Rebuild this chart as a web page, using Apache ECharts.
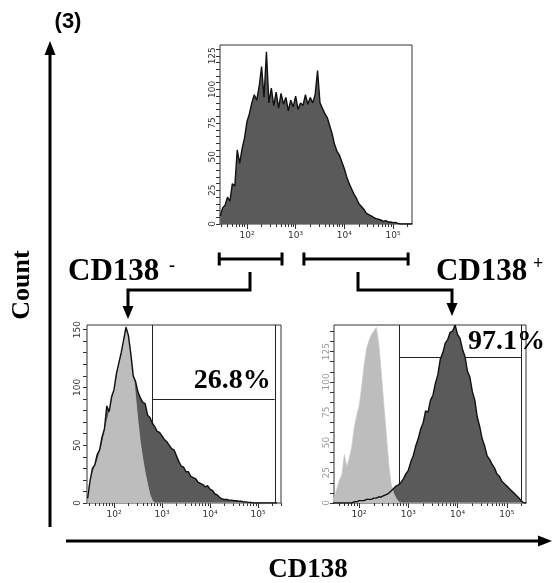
<!DOCTYPE html>
<html><head><meta charset="utf-8">
<script src="https://cdn.jsdelivr.net/npm/echarts@6/dist/echarts.min.js"></script>
<style>html,body{margin:0;padding:0;background:#fff}#c{width:552px;height:583px}</style>
</head><body><div id="c"></div>
<script>
// bin centres (log10 of CD138 fluorescence)
const BINS = [
1.45,1.50,1.55,1.60,1.65,1.70,1.75,1.80,1.85,1.90,
1.95,2.00,2.05,2.10,2.15,2.20,2.25,2.30,2.35,2.40,
2.45,2.50,2.55,2.60,2.65,2.70,2.75,2.80,2.85,2.90,
2.95,3.00,3.05,3.10,3.15,3.20,3.25,3.30,3.35,3.40,
3.45,3.50,3.55,3.60,3.65,3.70,3.75,3.80,3.85,3.90,
3.95,4.00,4.05,4.10,4.15,4.20,4.25,4.30,4.35,4.40,
4.45,4.50,4.55,4.60,4.65,4.70,4.75,4.80,4.85,4.90,
4.95,5.00,5.05,5.10,5.15,5.20,5.25,5.30,5.35,5.40];
// top: all cells before sorting
const TOP_ALL = [
6,12,14,20,17,30,28,55,45,56,
64,76,82,90,96,92,102,117,94,128,
90,101,88,98,86,97,89,94,84,92,
87,95,85,90,88,96,89,94,90,96,
114,90,86,82,79,73,67,59,54,51,
46,41,35,30,26,22,19,15,13,11,
8,7,6,5,4,3.5,3,2,2.5,1.5,
1.5,1,1.2,0.5,0,0,0,0,0,0];
// CD138- sorted fraction
const NEG_SAMPLE = [
4,19,30,33,42,46,57,64,84,79,
92,98,112,121,130,141,152,145,129,110,
105,96,91,87,86,76,74,69,66,62,
61,58,55,53,50,47,46,41,36,32,
31,27,27,23,22,21,18,17,16,14,
15,12,11,8,7,5,3.5,3,3,2.5,
2.5,2,2,1.5,1.5,1,1,0.5,0.5,0,
0,0,0,0,0,0,0,0,0,0];
const NEG_CONTROL = [
10,18,25,31,36,43,50,60,70,78,
87,96,106,118,127,140,153,145,132,114,
92,70,52,38,26,16,7,2,0,0,
0,0,0,0,0,0,0,0,0,0,
0,0,0,0,0,0,0,0,0,0,
0,0,0,0,0,0,0,0,0,0,
0,0,0,0,0,0,0,0,0,0,
0,0,0,0,0,0,0,0,0,0];
// CD138+ sorted fraction
const POS_SAMPLE = [
0,0,0,0,0,0,0,0,0,1,
1,2,2,2,3,3,3,4,4,5,
5,6,7,8,10,12,14,15,17,20,
24,27,34,39,47,53,61,66,76,75,
85,89,99,106,119,124,132,135,141,142,
147,139,136,127,121,109,104,92,85,71,
63,53,47,39,36,32,29,24,22,18,
16,14,12,10,8,6,4,1.5,0,0];
const POS_CONTROL = [
3,5,12,19,23,40,30,37,46,62,
72,80,95,113,127,134,139,142,145,131,
108,82,58,33,16,8,4,1,0,0,
0,0,0,0,0,0,0,0,0,0,
0,0,0,0,0,0,0,0,0,0,
0,0,0,0,0,0,0,0,0,0,
0,0,0,0,0,0,0,0,0,0,
0,0,0,0,0,0,0,0,0,0];
const DECADES = [2,3,4,5];
const DECADE_LABELS = ['10²','10³','10⁴','10⁵'];
const GATE_NEG = [2.79, 5.35, 90];   // [from, to, marker height]
const GATE_POS = [2.82, 5.29, 120];
const PCT_NEG = '26.8%';
const PCT_POS = '97.1%';
const BRACKET_NEG = [1.43, 2.72];
const BRACKET_POS = [3.17, 5.31];

const DARK = '#5a5a5a', LIGHT = '#bdbdbd';
const minorTicks = [];
for (let n = 1; n <= 5; n++) for (let k = 2; k <= 9; k++) minorTicks.push(Math.log10(k * Math.pow(10, n)));

const panels = [
  {grid:{left:220,top:45,width:192,height:179}, xmin:1.446, xmax:5.39, ymax:133, ytick:5, ylab:25, ylabColor:'#333', ylabMargin:3},
  {grid:{left:87,top:325,width:194,height:178}, xmin:1.4375, xmax:5.48, ymax:154, ytick:10, ylab:50, ylabColor:'#333', ylabMargin:5},
  {grid:{left:334,top:325,width:192,height:178}, xmin:1.49, xmax:5.39, ymax:147, ytick:25/3, ylab:25, ylabColor:'#999', ylabMargin:3}
];

const grids = [], xAxes = [], yAxes = [];
panels.forEach((p, i) => {
  grids.push(Object.assign({show:true, borderColor:'#333', borderWidth:1, backgroundColor:'transparent', containLabel:false}, p.grid));
  xAxes.push({type:'value', gridIndex:i, position:'bottom', min:p.xmin, max:p.xmax,
    axisLine:{show:false}, splitLine:{show:false},
    axisTick:{show:true, length:5, customValues:DECADES, lineStyle:{color:'#333'}},
    axisLabel:{show:true, customValues:DECADES, margin:7, fontSize:9, color:'#333', fontFamily:'DejaVu Sans',
      formatter:v => DECADE_LABELS[DECADES.indexOf(Math.round(v))] || ''}});
  xAxes.push({type:'value', gridIndex:i, position:'bottom', min:p.xmin, max:p.xmax,
    axisLine:{show:false}, splitLine:{show:false}, axisLabel:{show:false},
    axisTick:{show:true, length:3, customValues:minorTicks.filter(t => t > p.xmin && t < p.xmax), lineStyle:{color:'#333'}}});
  yAxes.push({type:'value', gridIndex:i, min:0, max:p.ymax, interval:p.ytick,
    axisLine:{show:false}, splitLine:{show:false},
    axisTick:{show:true, length:4, lineStyle:{color:'#333'}},
    axisLabel:{show:true, rotate:90, fontSize:9, color:p.ylabColor, margin:p.ylabMargin, showMaxLabel:false, fontFamily:'DejaVu Sans',
      formatter:v => { const r = v / p.ylab; return Math.abs(r - Math.round(r)) < 1e-6 ? String(Math.round(v)) : ''; }}});
});

const pts = arr => BINS.map((b, i) => [b, arr[i]]);
function area(i, arr, color, lineColor) {
  return {type:'line', xAxisIndex:2*i, yAxisIndex:i, data:pts(arr), symbol:'none', silent:true,
    lineStyle:{width:lineColor ? 0.8 : 0, color:lineColor || color}, areaStyle:{color:color, opacity:1}};
}
function outline(i, arr) {
  return {type:'line', xAxisIndex:2*i, yAxisIndex:i, data:pts(arr), symbol:'none', silent:true,
    lineStyle:{width:1.4, color:'#111'}};
}
function gate(i, g, ymax) {
  return {type:'lines', coordinateSystem:'cartesian2d', xAxisIndex:2*i, yAxisIndex:i, silent:true,
    lineStyle:{color:'#222', width:1, opacity:1},
    data:[{coords:[[g[0],0],[g[0],ymax]]},{coords:[[g[0],g[2]],[g[1],g[2]]]},{coords:[[g[1],0],[g[1],ymax]]}]};
}

const series = [
  area(0, TOP_ALL, DARK), outline(0, TOP_ALL),
  area(1, NEG_SAMPLE, DARK), area(1, NEG_CONTROL, LIGHT, '#c8c8c8'), outline(1, NEG_SAMPLE), gate(1, GATE_NEG, panels[1].ymax),
  area(2, POS_SAMPLE, DARK), area(2, POS_CONTROL, LIGHT, '#c8c8c8'), outline(2, POS_SAMPLE), gate(2, GATE_POS, panels[2].ymax)
];

const chart = echarts.init(document.getElementById('c'), null, {renderer:'canvas'});
chart.setOption({animation:false, backgroundColor:'#fff', grid:grids, xAxis:xAxes, yAxis:yAxes, series:series});

const px = (i, v) => chart.convertToPixel({xAxisIndex:2*i, yAxisIndex:i}, v);
const SERIF = '"Liberation Serif","Times New Roman",serif';
const g = [];
function seg(x1,y1,x2,y2,w){ g.push({type:'line', shape:{x1,y1,x2,y2}, style:{stroke:'#000', lineWidth:w||3}}); }
function tri(points){ g.push({type:'polygon', shape:{points}, style:{fill:'#000'}}); }
function txt(x,y,text,font,align,valign,rot){ g.push({type:'text', x, y, rotation:rot||0, style:{text, font, fill:'#000', textAlign:align||'center', textVerticalAlign:valign||'middle'}}); }

// main axes arrows
seg(50, 527, 50, 52); tri([[50,41],[44.5,55],[55.5,55]]);
seg(66, 541, 540, 541); tri([[552,541],[538,535.5],[538,546.5]]);
txt(68, 22, '(3)', 'bold 22px "Liberation Sans",Arial,sans-serif');
txt(22, 285, 'Count', 'bold 26px ' + SERIF, 'center', 'middle', Math.PI/2);
txt(308, 570, 'CD138', 'bold 27px ' + SERIF);

// gate brackets under top histogram
const by = 259;
[BRACKET_NEG, BRACKET_POS].forEach(b => {
  const x1 = px(0, [b[0], 0])[0], x2 = px(0, [b[1], 0])[0];
  seg(x1, by, x2, by); seg(x1, by-6.5, x1, by+6.5); seg(x2, by-6.5, x2, by+6.5);
});
// elbow arrows
g.push({type:'polyline', shape:{points:[[250,272],[250,290],[128,290],[128,308]]}, style:{stroke:'#000', lineWidth:3, fill:null}});
tri([[128,319],[122.5,306],[133.5,306]]);
g.push({type:'polyline', shape:{points:[[358,272],[358,290],[452,290],[452,305]]}, style:{stroke:'#000', lineWidth:3, fill:null}});
tri([[452,316],[446.5,303],[457.5,303]]);
// population labels
txt(68, 272, 'CD138', 'bold 31px ' + SERIF, 'left');
txt(169, 266, '-', 'bold 18px ' + SERIF, 'left');
txt(436, 272, 'CD138', 'bold 31px ' + SERIF, 'left');
txt(533, 264, '+', 'bold 18px ' + SERIF, 'left');
// gate percentages
const pn = px(1, [GATE_NEG[1], GATE_NEG[2]]);
txt(pn[0] - 4, pn[1] - 4, PCT_NEG, 'bold 28px ' + SERIF, 'right', 'bottom');
const pp = px(2, [GATE_POS[1], GATE_POS[2]]);
txt(pp[0] - 53, pp[1] - 2, PCT_POS, 'bold 28px ' + SERIF, 'left', 'bottom');

chart.setOption({graphic:g});
</script></body></html>
